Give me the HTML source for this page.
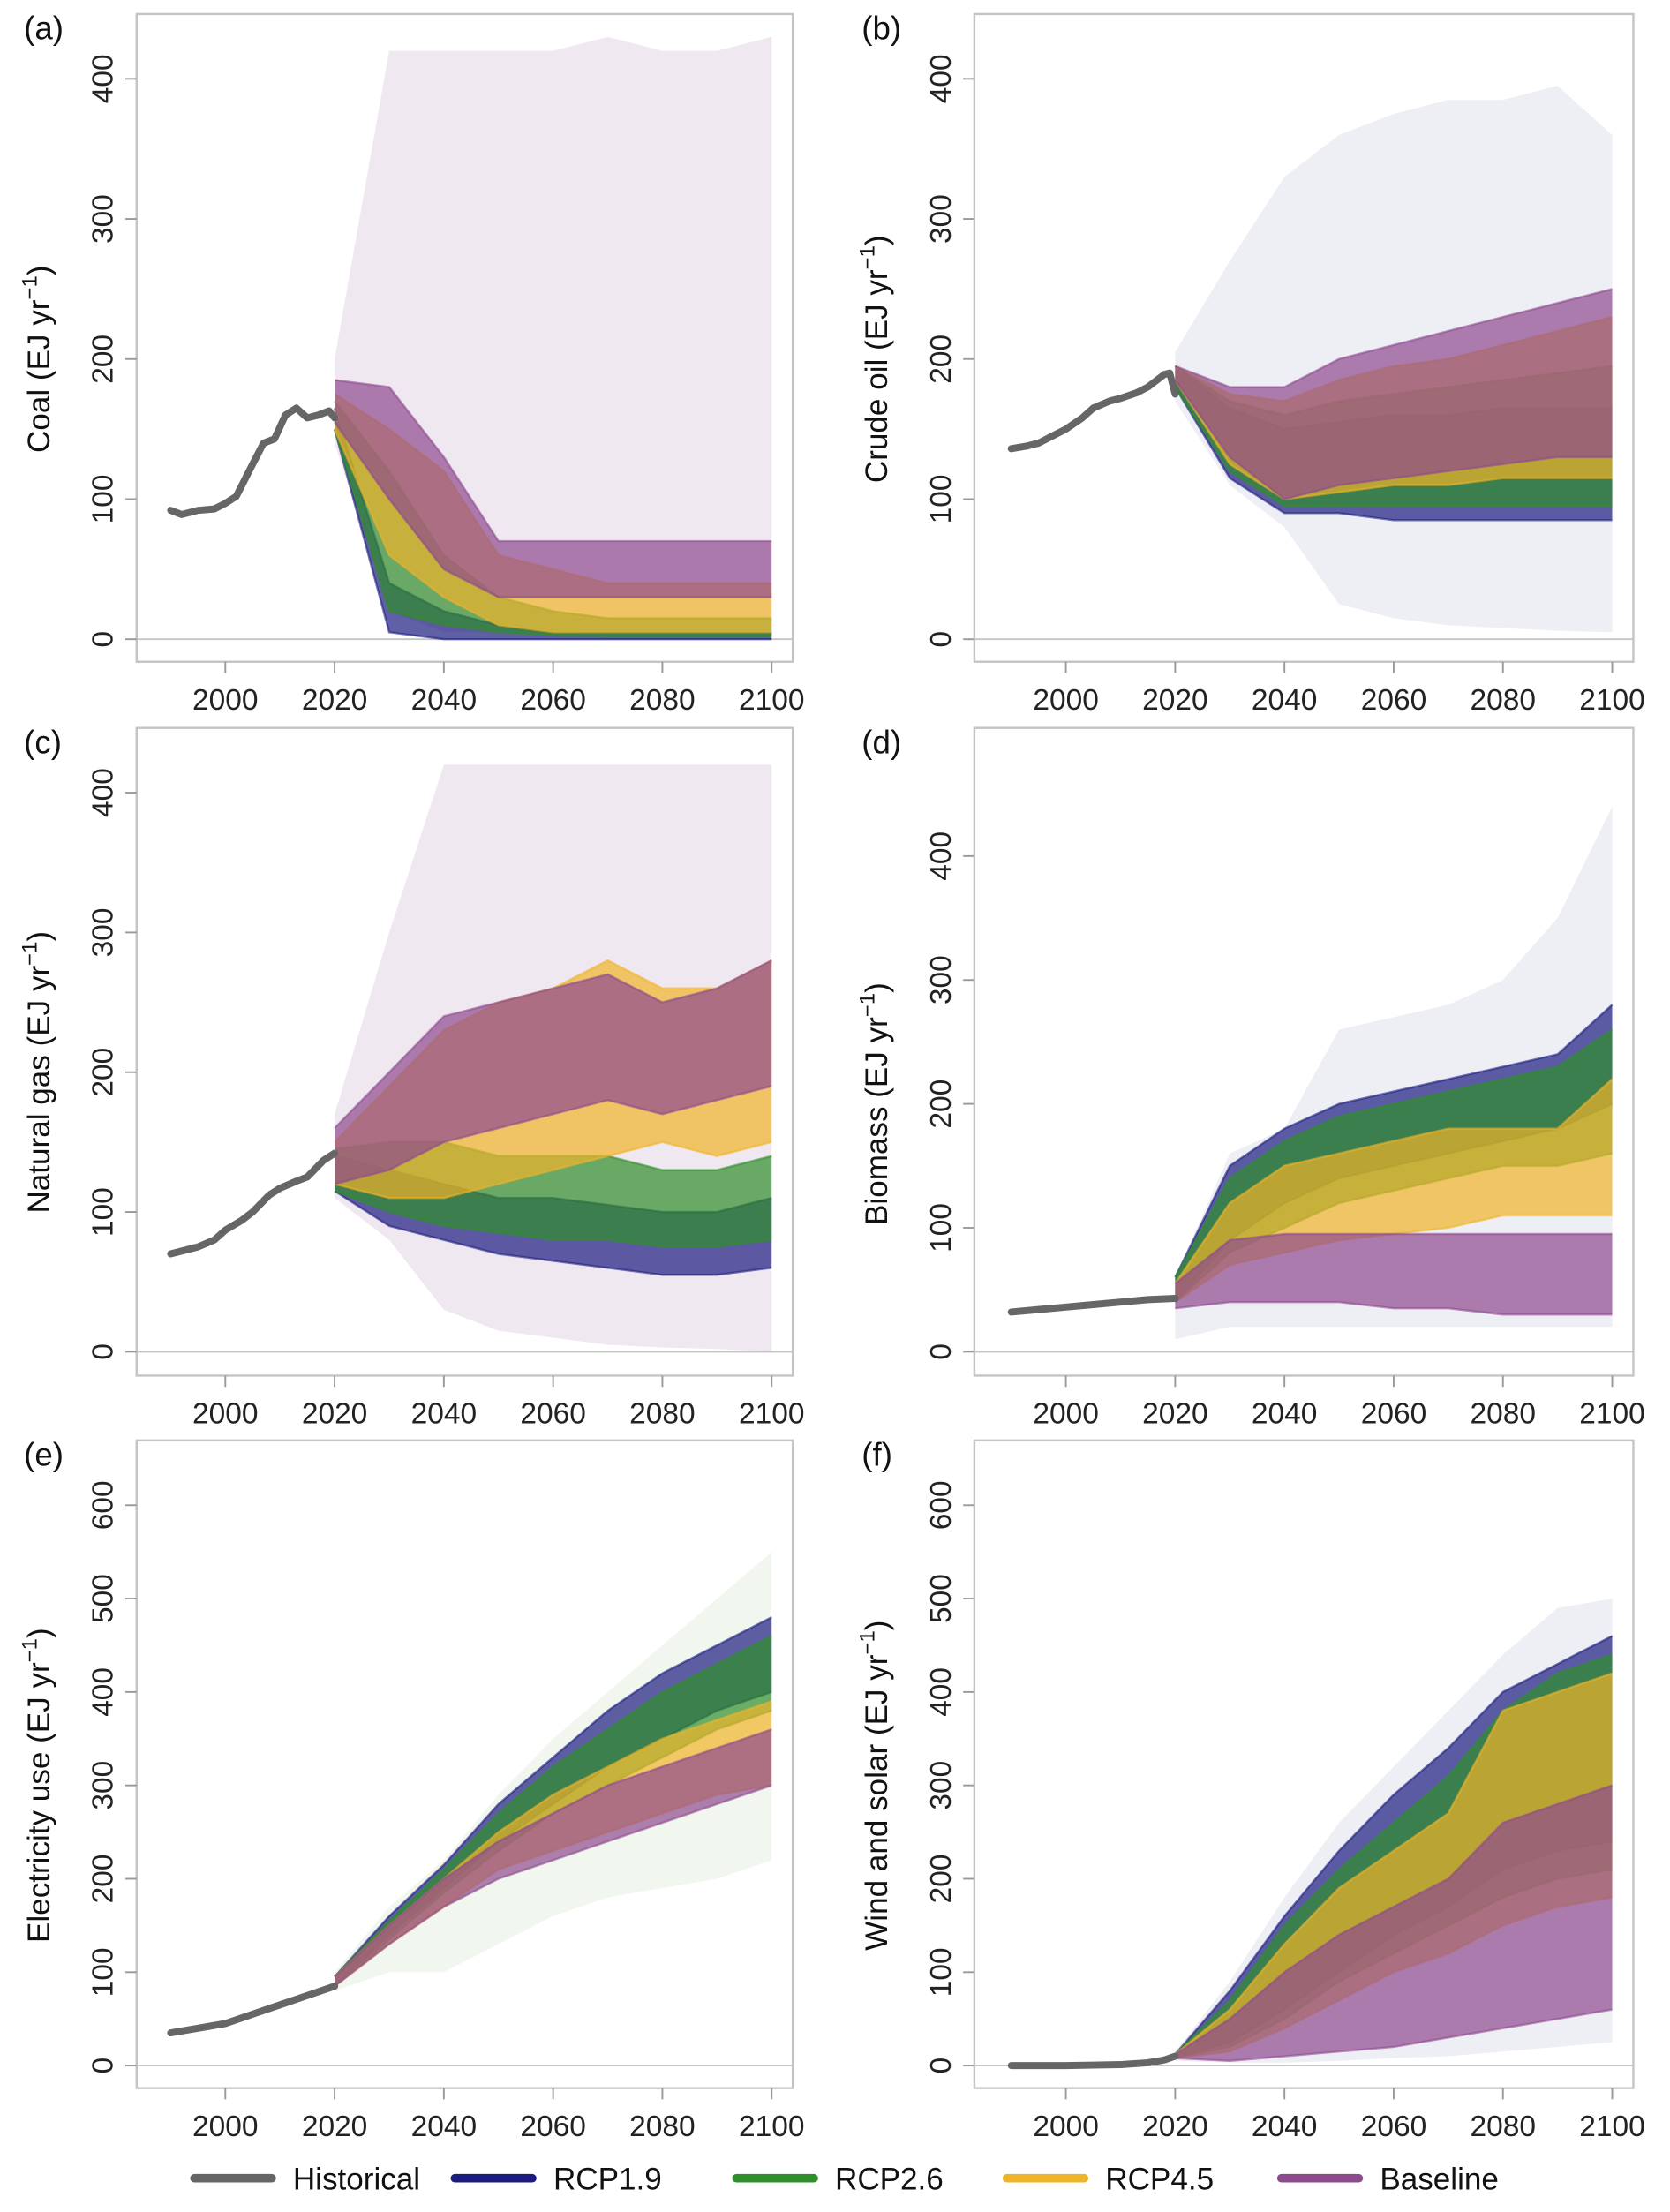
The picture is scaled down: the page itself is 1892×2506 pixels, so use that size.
<!DOCTYPE html>
<html><head><meta charset="utf-8">
<style>
html,body{margin:0;padding:0;background:#fff;}
svg{display:block;font-family:"Liberation Sans",Arial,sans-serif;}
</style></head>
<body>
<svg id="fig" width="1892" height="2506" viewBox="0 0 1186 1571" xmlns="http://www.w3.org/2000/svg"></svg>
<script>
const years = [2020,2030,2040,2050,2060,2070,2080,2090,2100];
const scenarioNames = ["RCP1.9","RCP2.6","RCP4.5","Baseline"];
const scenarioColors = ["#1c1c80","#2f8f2a","#f0b429","#8e4a8e"];

const histYearsA=[1990,1992,1995,1998,2000,2002,2005,2007,2009,2011,2013,2015,2017,2019,2020];
const histCoal=[92,89,92,93,97,102,125,140,143,160,165,158,160,163,158];
const histYearsB=[1990,1993,1995,1998,2000,2003,2005,2008,2010,2013,2015,2018,2019,2020];
const histOil=[136,138,140,146,150,158,165,170,172,176,180,189,190,175];
const histYearsC=[1990,1993,1995,1998,2000,2003,2005,2008,2010,2013,2015,2018,2020];
const histGas=[70,73,75,80,87,94,100,112,117,122,125,137,142];
const histYearsD=[1990,1995,2000,2005,2010,2015,2020];
const histBio=[32,34,36,38,40,42,43];
const histYearsE=[1990,1995,2000,2005,2010,2015,2020];
const histElec=[35,40,45,55,65,75,85];
const histYearsF=[1990,1995,2000,2005,2010,2015,2018,2020];
const histWind=[0,0,0,0.5,1,3,6,10];

const coalLo=[[150,5,0,0,0,0,0,0,0],[150,20,10,5,3,2,2,2,2],[150,60,30,10,5,5,5,5,5],[155,100,50,30,30,30,30,30,30]];
const coalHi=[[165,40,20,10,5,5,5,5,5],[170,120,60,30,20,15,15,15,15],[175,150,120,60,50,40,40,40,40],[185,180,130,70,70,70,70,70,70]];
const coalOuterLo=[140,20,5,5,3,2,2,2,2];
const coalOuterHi=[200,420,420,420,420,430,420,420,430];
const oilLo=[[180,115,90,90,85,85,85,85,85],[180,120,95,95,95,95,95,95,95],[185,125,100,105,110,110,115,115,115],[185,130,100,110,115,120,125,130,130]];
const oilHi=[[195,165,150,155,160,160,165,165,165],[195,170,160,170,175,180,185,190,195],[195,175,170,185,195,200,210,220,230],[195,180,180,200,210,220,230,240,250]];
const oilOuterLo=[170,110,80,25,15,10,8,6,5];
const oilOuterHi=[205,270,330,360,375,385,385,395,360];
const gasLo=[[115,90,80,70,65,60,55,55,60],[115,100,90,85,80,80,75,75,80],[120,110,110,120,130,140,150,140,150],[120,130,150,160,170,180,170,180,190]];
const gasHi=[[140,130,120,110,110,105,100,100,110],[145,150,150,140,140,140,130,130,140],[150,190,230,250,260,280,260,260,280],[160,200,240,250,260,270,250,260,280]];
const gasOuterLo=[110,80,30,15,10,5,3,2,0];
const gasOuterHi=[170,300,420,420,420,420,420,420,420];
const bioLo=[[40,90,120,140,150,160,170,180,200],[40,80,100,120,130,140,150,150,160],[40,70,80,90,95,100,110,110,110],[35,40,40,40,35,35,30,30,30]];
const bioHi=[[60,150,180,200,210,220,230,240,280],[60,140,170,190,200,210,220,230,260],[55,120,150,160,170,180,180,180,220],[55,90,95,95,95,95,95,95,95]];
const bioOuterLo=[10,20,20,20,20,20,20,20,20];
const bioOuterHi=[60,160,180,260,270,280,300,350,440];
const elecLo=[[85,140,190,240,280,320,350,380,400],[85,135,185,230,270,300,330,360,380],[85,130,170,210,230,250,270,290,300],[85,130,170,200,220,240,260,280,300]];
const elecHi=[[95,160,215,280,330,380,420,450,480],[95,155,210,270,320,360,400,430,460],[95,150,200,250,290,320,350,370,390],[95,150,200,240,270,300,320,340,360]];
const elecOuterLo=[80,100,100,130,160,180,190,200,220];
const elecOuterHi=[100,170,220,290,350,400,450,500,550];
const windLo=[[8,25,60,100,140,170,210,230,240],[8,20,50,90,120,150,180,200,210],[8,15,40,70,100,120,150,170,180],[8,5,10,15,20,30,40,50,60]];
const windHi=[[12,80,160,230,290,340,400,430,460],[12,70,150,210,260,310,380,420,440],[12,60,130,190,230,270,380,400,420],[12,50,100,140,170,200,260,280,300]];
const windOuterLo=[5,3,3,5,8,10,15,20,25];
const windOuterHi=[15,90,180,260,320,380,440,490,500];

const yTicksA=[0,100,200,300,400];
const yTicksE=[0,100,200,300,400,500,600];
const xTicks=[2000,2020,2040,2060,2080,2100];

const panels=[
 {id:"a",title:"Coal",bx:97,by:10,bw:466,bh:460,x2000:160,zero:454,k:0.995,ticks:yTicksA,hy:histYearsA,hv:histCoal,lo:coalLo,hi:coalHi,olo:coalOuterLo,ohi:coalOuterHi,oc:"#8e4a8e"},
 {id:"b",title:"Crude oil",bx:692,by:10,bw:468,bh:460,x2000:757,zero:454,k:0.995,ticks:yTicksA,hy:histYearsB,hv:histOil,lo:oilLo,hi:oilHi,olo:oilOuterLo,ohi:oilOuterHi,oc:"#7f86b0"},
 {id:"c",title:"Natural gas",bx:97,by:517,bw:466,bh:460,x2000:160,zero:960,k:0.9925,ticks:yTicksA,hy:histYearsC,hv:histGas,lo:gasLo,hi:gasHi,olo:gasOuterLo,ohi:gasOuterHi,oc:"#8e4a8e"},
 {id:"d",title:"Biomass",bx:692,by:517,bw:468,bh:460,x2000:757,zero:960,k:0.88,ticks:yTicksA,hy:histYearsD,hv:histBio,lo:bioLo,hi:bioHi,olo:bioOuterLo,ohi:bioOuterHi,oc:"#7f86b0"},
 {id:"e",title:"Electricity use",bx:97,by:1023,bw:466,bh:460,x2000:160,zero:1467,k:0.6633,ticks:yTicksE,hy:histYearsE,hv:histElec,lo:elecLo,hi:elecHi,olo:elecOuterLo,ohi:elecOuterHi,oc:"#8fbf7f"},
 {id:"f",title:"Wind and solar",bx:692,by:1023,bw:468,bh:460,x2000:757,zero:1467,k:0.6633,ticks:yTicksE,hy:histYearsF,hv:histWind,lo:windLo,hi:windHi,olo:windOuterLo,ohi:windOuterHi,oc:"#7f86b0"}
];

const NS="http://www.w3.org/2000/svg";
const svg=document.getElementById("fig");
function mk(tag,attrs,parent){const e=document.createElementNS(NS,tag);for(const a in attrs)e.setAttribute(a,attrs[a]);(parent||svg).appendChild(e);return e;}

panels.forEach(p=>{
 const xs=y=>p.x2000+(y-2000)*3.88;
 const ys=v=>p.zero-v*p.k;
 const g=mk("g",{});
 
 
 const clipId="clip"+p.id;
 const cp=mk("clipPath",{id:clipId},g);
 mk("rect",{x:p.bx,y:p.by,width:p.bw,height:p.bh},cp);
 const box=mk("rect",{x:p.bx,y:p.by,width:p.bw,height:p.bh,fill:"none",stroke:"#c4c4c4","stroke-width":1.5},g);
 
 
 const zl=mk("line",{x1:p.bx,x2:p.bx+p.bw,y1:ys(0),y2:ys(0),stroke:"#c4c4c4","stroke-width":1.2},g);
 
 
 const inner=mk("g",{"clip-path":"url(#"+clipId+")"},g);
 function band(lo,hi,color,op){
  let d="M"+years.map((y,i)=>xs(y)+","+ys(hi[i])).join("L");
  for(let i=years.length-1;i>=0;i--)d+="L"+xs(years[i])+","+ys(lo[i]);
  return mk("path",{d:d+"Z",fill:color,"fill-opacity":op,stroke:"none"},inner);
 }
 function line(vals,color,op,w){
  return mk("polyline",{points:years.map((y,i)=>xs(y)+","+ys(vals[i])).join(" "),fill:"none",stroke:color,"stroke-opacity":op,"stroke-width":w},inner);
 }
 const ob=band(p.olo,p.ohi,p.oc,0.13);
 
 
 for(let s=0;s<4;s++){
  const b=band(p.lo[s],p.hi[s],scenarioColors[s],0.7);
  
  
  const l1=line(p.lo[s],scenarioColors[s],0.6,1.5);
  
  
  const l2=line(p.hi[s],scenarioColors[s],0.6,1.5);
  
  
 }
 const h=mk("polyline",{points:p.hy.map((y,i)=>xs(y)+","+ys(p.hv[i])).join(" "),fill:"none",stroke:"#666","stroke-width":5,"stroke-linejoin":"round","stroke-linecap":"round"},g);
 
 
 p.ticks.forEach(t=>{
  const tk=mk("line",{x1:p.bx-8,x2:p.bx,y1:ys(t),y2:ys(t),stroke:"#999","stroke-width":1.2},g);
  
  
  const tx=mk("text",{x:0,y:0,transform:"translate("+(p.bx-17)+","+ys(t)+") rotate(-90)","text-anchor":"middle","font-size":21,fill:"#222"},g);
  tx.textContent=t;
  
  
 });
 xTicks.forEach(t=>{
  const tk=mk("line",{x1:xs(t),x2:xs(t),y1:p.by+p.bh,y2:p.by+p.bh+8,stroke:"#999","stroke-width":1.2},g);
  
  
  const tx=mk("text",{x:xs(t),y:p.by+p.bh+34,"text-anchor":"middle","font-size":21,fill:"#222"},g);
  tx.textContent=t;
  
  
 });
 const mid=ys(p.ticks[p.ticks.length-1]/2);
 const ttl=mk("text",{x:0,y:0,transform:"translate("+(p.bx-62)+","+mid+") rotate(-90)","text-anchor":"middle","font-size":22,fill:"#111"},g);
 
 
 ttl.appendChild(document.createTextNode(p.title+" (EJ yr"));
 const sup=mk("tspan",{dy:-9,"font-size":15},ttl);sup.textContent="−1";
 const cl=mk("tspan",{dy:9},ttl);cl.textContent=")";
 const pl=mk("text",{x:p.bx-80,y:p.by+18,"font-size":23,fill:"#111"},g);
 pl.textContent="("+p.id+")";
 
 
});

const legendLabels=["Historical","RCP1.9","RCP2.6","RCP4.5","Baseline"];
const legendColors=["#666","#1c1c80","#2f8f2a","#f0b429","#8e4a8e"];
const legendX=[138,323,523,715,910];
const lg=mk("g",{});


legendLabels.forEach((l,i)=>{
 const ln=mk("line",{x1:legendX[i],x2:legendX[i]+55,y1:1547,y2:1547,stroke:legendColors[i],"stroke-width":6,"stroke-linecap":"round"},lg);
 
 
 const t=mk("text",{x:legendX[i]+70,y:1555,"font-size":22,fill:"#111"},lg);
 t.textContent=l;
 
 
});
</script>
</body></html>
